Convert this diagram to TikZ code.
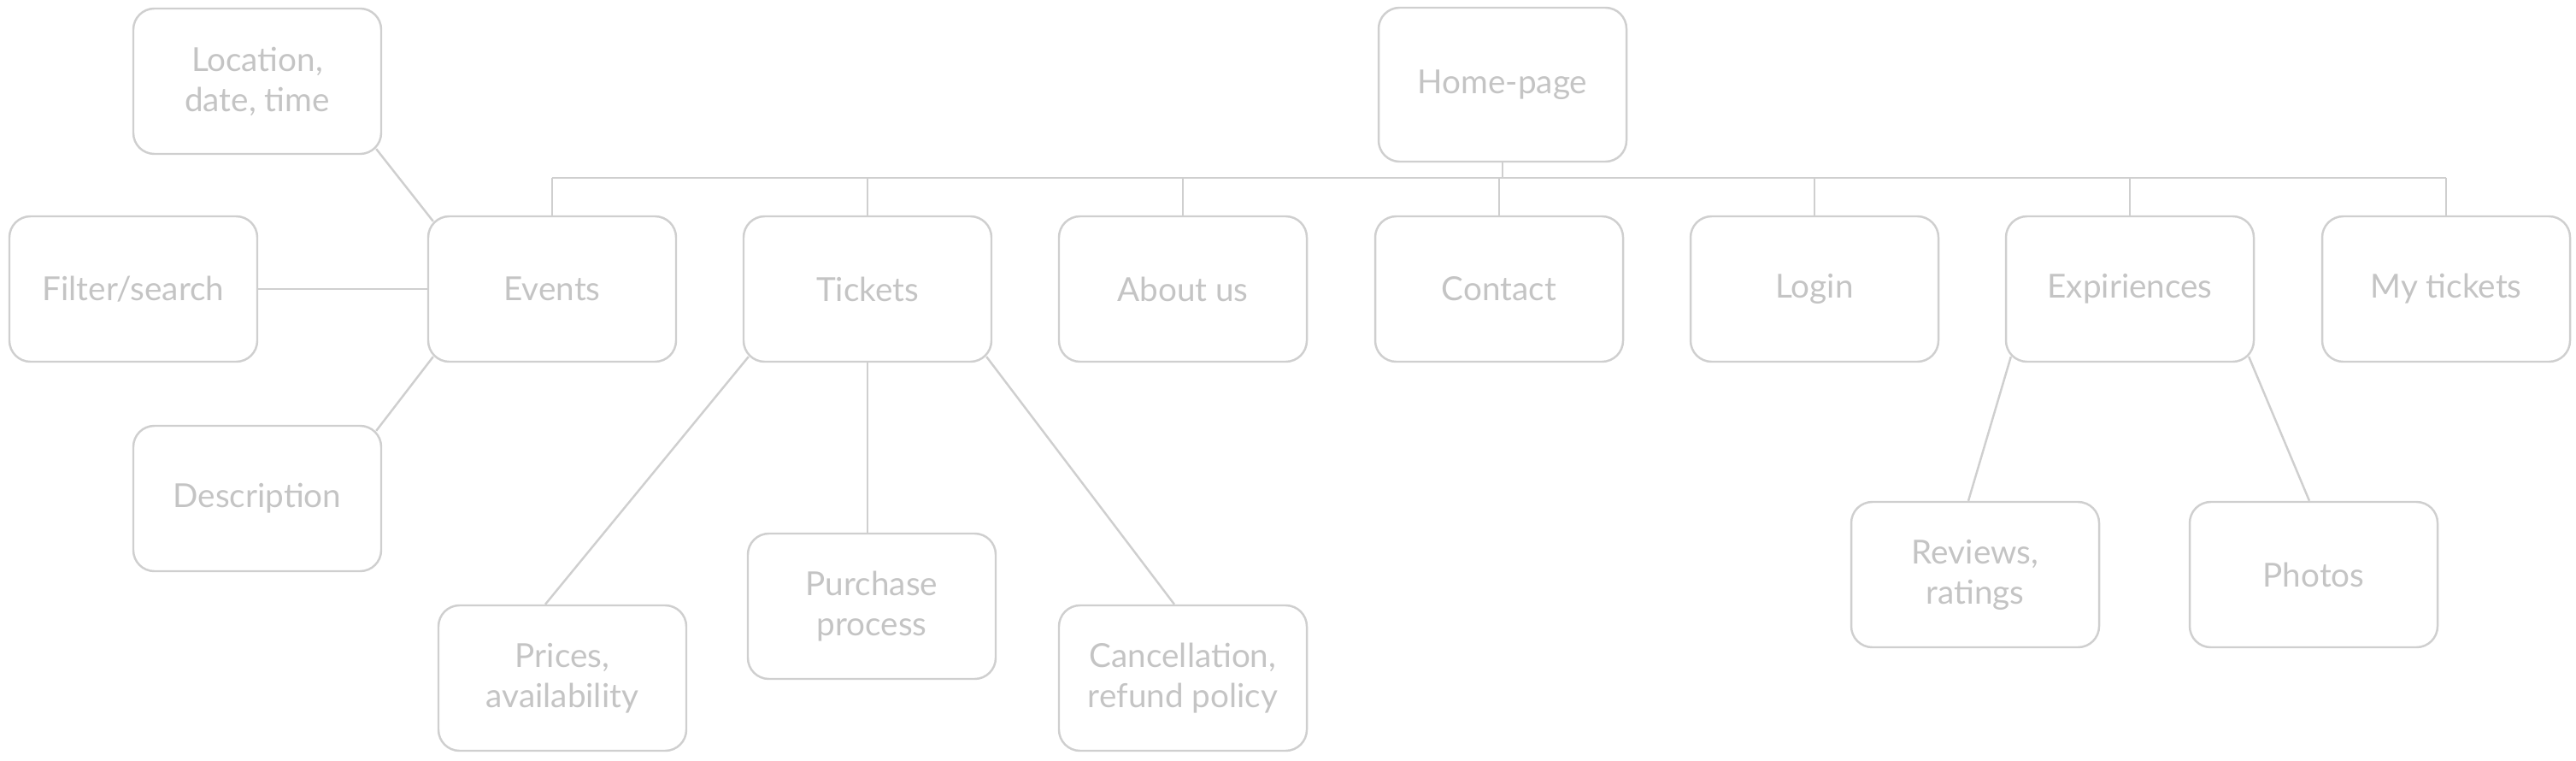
\documentclass[tikz,border=0pt]{standalone}
\usepackage{fontspec}
\setmainfont{Lato}
\usepackage{tikz}
\definecolor{sketchline}{HTML}{CFCFCF}
\definecolor{sketchtext}{HTML}{C4C4C4}

\begin{document}
\begin{tikzpicture}[
	page/.style={shape=rectangle, draw=sketchline, line width=0.7pt, rounded corners=7pt,
		minimum width=2.9cm, minimum height=1.7cm, inner sep=0pt, align=center,
		text=sketchtext, font=\fontsize{11}{13.4}\selectfont},
	link/.style={draw=sketchline, line width=0.7pt}
]
	\useasboundingbox (0,0) rectangle (30.14,-8.89);

	\node[page, minimum height=1.8cm] (hp) at (17.58,-0.99)  {Home-page};
	\node[page] (loc) at (3.01,-0.95)   {Location,\\date, time};
	\node[page] (fs) at (1.56,-3.38)    {Filter/search};
	\node[page] (ev) at (6.46,-3.38)    {Events};
	\node[page] (desc) at (3.01,-5.83)  {Description};
	\node[page] (tk) at (10.15,-3.38)   {Tickets};
	\node[page] (ab) at (13.84,-3.38)   {About us};
	\node[page] (ct) at (17.54,-3.38)   {Contact};
	\node[page] (lg) at (21.23,-3.38)   {Login};
	\node[page] (ex) at (24.92,-3.38)   {Expiriences};
	\node[page] (mt) at (28.62,-3.38)   {My tickets};
	\node[page] (pr) at (6.58,-7.93)    {Prices,\\availability};
	\node[page] (pu) at (10.20,-7.09)   {Purchase\\process};
	\node[page] (can) at (13.84,-7.93)  {Cancellation,\\refund policy};
	\node[page] (rev) at (23.11,-6.72)  {Reviews,\\ratings};
	\node[page] (ph) at (27.07,-6.72)   {Photos};

	% menu bar under the home page
	\coordinate (bus) at (0,-2.08);
	\path[link] (hp.south) -- (hp.south |- bus);
	\path[link] (ev.north |- bus) -- (mt.north |- bus);
	\foreach \p in {ev,tk,ab,ct,lg,ex,mt}
		\path[link] (\p.north |- bus) -- (\p.north);

	% sub pages, lines meet the rounded corners
	\path[link] ([shift={(-2pt,2pt)}]loc.south east) edge ([shift={(2pt,-2pt)}]ev.north west);
	\path[link] (fs.east) edge (ev.west);
	\path[link] ([shift={(-2pt,-2pt)}]desc.north east) edge ([shift={(2pt,2pt)}]ev.south west);
	\path[link] ([shift={(2pt,2pt)}]tk.south west) edge ([xshift=-0.2cm]pr.north);
	\path[link] (tk.south) edge (tk.south |- pu.north);
	\path[link] ([shift={(-2pt,2pt)}]tk.south east) edge ([xshift=-0.1cm]can.north);
	\path[link] ([shift={(2pt,2pt)}]ex.south west) edge ([xshift=-0.08cm]rev.north);
	\path[link] ([shift={(-2pt,2pt)}]ex.south east) edge ([xshift=-0.05cm]ph.north);

\end{tikzpicture}
\end{document}
